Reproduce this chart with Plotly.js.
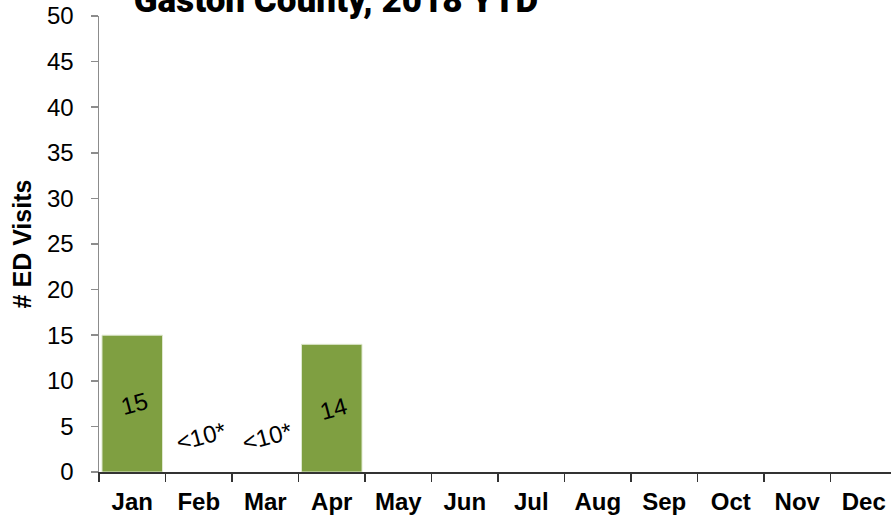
<!DOCTYPE html>
<html><head><meta charset="utf-8">
<script src="https://cdn.plot.ly/plotly-3.0.1.min.js"></script>
<style>html,body{margin:0;padding:0;background:#fff;overflow:hidden}</style>
</head><body>
<div id="chart" style="width:897px;height:517px"></div>
<script>
const months = ["Jan","Feb","Mar","Apr","May","Jun","Jul","Aug","Sep","Oct","Nov","Dec"];
const visits = [15, null, null, 14, null, null, null, null, null, null, null, null];
const labels = ["15", "<10*", "<10*", "14", "", "", "", "", "", "", "", ""];
const suppressedLabelY = 3.9;
const yTicks = [0,5,10,15,20,25,30,35,40,45,50];

const annotations = [];
months.forEach((m, i) => {
  if (!labels[i]) return;
  const v = visits[i];
  annotations.push({
    x: m, y: v != null ? v / 2 : suppressedLabelY,
    xref: 'x', yref: 'y', text: labels[i], showarrow: false,
    xshift: 2,
    textangle: -15,
    font: {family: 'Liberation Sans, Arial, sans-serif', size: 24, color: '#000'}
  });
});

const trace = {
  type: 'bar', x: months, y: visits,
  marker: {color: '#7F9F41', line: {color: '#dfe8cf', width: 1}},
  hoverinfo: 'skip'
};

const layout = {
  width: 897, height: 517,
  margin: {l: 99, r: 0, t: 16, b: 45},
  paper_bgcolor: '#fff', plot_bgcolor: '#fff',
  bargap: 0.09,
  showlegend: false,
  title: {
    text: 'Gaston County, 2018 YTD',
    font: {family: 'Roboto, sans-serif', size: 35, color: '#000', weight: 900},
    xref: 'container', x: 336 / 897, xanchor: 'center',
    yref: 'container', y: 1, yanchor: 'middle'
  },
  xaxis: {
    type: 'category', categoryorder: 'array', categoryarray: months,
    showline: true, linecolor: '#333333', linewidth: 2,
    ticks: 'outside', tickson: 'boundaries', ticklen: 8, tickcolor: '#333333', tickwidth: 1.5,
    ticklabelstandoff: 7,
    tickfont: {family: 'Liberation Sans, Arial, sans-serif', size: 24, color: '#000', weight: 'bold'},
    showgrid: false, zeroline: false, fixedrange: true
  },
  yaxis: {
    range: [0, 50], tickvals: yTicks, ticktext: yTicks.map(String),
    showline: true, linecolor: '#8c8c8c', linewidth: 1.5,
    ticks: 'outside', ticklen: 7, tickcolor: '#8c8c8c', tickwidth: 1.5,
    ticklabelstandoff: 12,
    tickfont: {family: 'Liberation Sans, Arial, sans-serif', size: 24, color: '#000'},
    showgrid: false, zeroline: false,
    title: {text: '# ED Visits', standoff: 8,
      font: {family: 'Liberation Sans, Arial, sans-serif', size: 25, color: '#000', weight: 'bold'}}
  },
  annotations: annotations
};

Plotly.newPlot('chart', [trace], layout, {displayModeBar: false, staticPlot: true});
</script>
</body></html>
